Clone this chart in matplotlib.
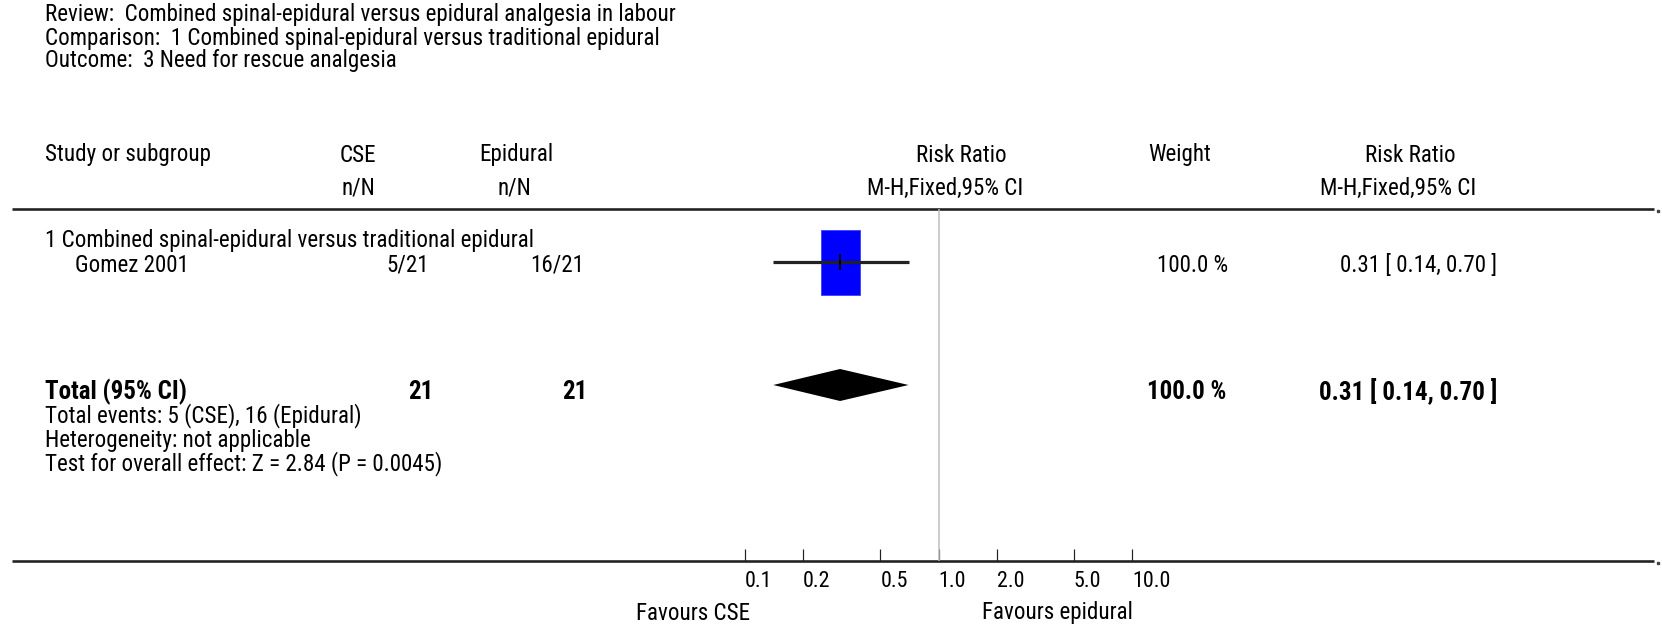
import matplotlib
matplotlib.use('Agg')
import matplotlib.pyplot as plt
from matplotlib import font_manager

# data
title_lines = ['Review:  Combined spinal-epidural versus epidural analgesia in labour',
               'Comparison:  1 Combined spinal-epidural versus traditional epidural',
               'Outcome:  3 Need for rescue analgesia']
subgroup = '1 Combined spinal-epidural versus traditional epidural'
studies = ['Gomez 2001']
cse_n = [5]
cse_N = [21]
epi_n = [16]
epi_N = [21]
rr = [0.31]
rr_lo = [0.14]
rr_hi = [0.70]
weight = [100.0]
total_rr = 0.31
total_lo = 0.14
total_hi = 0.70
total_weight = 100.0
z_value = 2.84
p_value = 0.0045
ticks = [0.1, 0.2, 0.5, 1.0, 2.0, 5.0, 10.0]
tick_labels = ['0.1', '0.2', '0.5', '1.0', '2.0', '5.0', '10.0']

# pick a narrow font if one is there
names = set(f.name for f in font_manager.fontManager.ttflist)
fam = 'DejaVu Sans'
for cand in ['Roboto Condensed', 'Liberation Sans Narrow', 'DejaVu Sans Condensed', 'Open Sans Condensed']:
    if cand in names:
        fam = cand
        break
plt.rcParams['font.family'] = [fam, 'DejaVu Sans']

W, H = 1662, 629
DPI = 100
def px(v):
    return v * 72.0 / DPI

fs = px(23)
fsb = px(25)

fig = plt.figure(figsize=(W / DPI, H / DPI), dpi=DPI)
ax = fig.add_axes([0, 0, 1, 1])
ax.set_xlim(0, W)
ax.set_ylim(H, 0)
ax.axis('off')

def t(x, y, s, ha='left', bold=False, size=None):
    ax.text(x, y, s, ha=ha, va='center', fontsize=size or (fsb if bold else fs),
            fontweight='bold' if bold else 'normal', color='black')

# header
for i, line in enumerate(title_lines):
    t(45, 15 + i * 23, line)

t(45, 155, 'Study or subgroup')
t(358, 155, 'CSE', ha='center')
t(358, 188, 'n/N', ha='center')
t(516, 155, 'Epidural', ha='center')
t(514, 188, 'n/N', ha='center')
t(961, 155, 'Risk Ratio', ha='center')
t(945, 188, 'M-H,Fixed,95% CI', ha='center')
t(1180, 155, 'Weight', ha='center')
t(1410, 155, 'Risk Ratio', ha='center')
t(1398, 188, 'M-H,Fixed,95% CI', ha='center')

# horizontal rules
for yl in [209, 561]:
    ax.plot([12, 1654], [yl, yl], color='#222222', lw=px(2.6), solid_capstyle='butt')
    ax.plot([1658], [yl + 2], marker='s', ms=px(2), color='#444444')

# rows
row_y = [265]
t(45, 240, subgroup)
for i, name in enumerate(studies):
    y = row_y[i]
    t(75, y, name)
    t(429, y, '%d/%d' % (cse_n[i], cse_N[i]), ha='right')
    t(584, y, '%d/%d' % (epi_n[i], epi_N[i]), ha='right')
    t(1228, y, '%.1f %%' % weight[i], ha='right')
    t(1497, y, '%.2f [ %.2f, %.2f ]' % (rr[i], rr_lo[i], rr_hi[i]), ha='right')

total_y = 392
t(45, total_y, 'Total (95% CI)', bold=True)
t(433, total_y, '%d' % sum(cse_N), ha='right', bold=True)
t(587, total_y, '%d' % sum(epi_N), ha='right', bold=True)
t(1226, total_y, '%.1f %%' % total_weight, ha='right', bold=True)
t(1497, total_y, '%.2f [ %.2f, %.2f ]' % (total_rr, total_lo, total_hi), ha='right', bold=True)
t(45, 416, 'Total events: %d (CSE), %d (Epidural)' % (sum(cse_n), sum(epi_n)))
t(45, 440, 'Heterogeneity: not applicable')
t(45, 464, 'Test for overall effect: Z = %.2f (P = %s)' % (z_value, p_value))

# forest panel, log scale
fx0, fx1, fy0, fy1 = 745, 1132, 209, 561
fa = fig.add_axes([fx0 / W, 1 - fy1 / H, (fx1 - fx0) / W, (fy1 - fy0) / H])
fa.set_xscale('log')
fa.set_xlim(0.1, 10)
fa.set_ylim(fy1, fy0)
fa.patch.set_alpha(0)
for s in fa.spines.values():
    s.set_visible(False)
fa.set_yticks([])
fa.minorticks_off()
fa.set_xticks(ticks)
fa.set_xticklabels(tick_labels)
for lab in fa.get_xticklabels():
    lab.set_ha('left')
fa.tick_params(axis='x', direction='in', length=px(12), width=px(1.2), color='#222222',
               labelsize=px(22), pad=px(10))
fa.axvline(1.0, color='#bdbdbd', lw=px(1.5))

box = [(-0.6, -1), (0.6, -1), (0.6, 1), (-0.6, 1), (-0.6, -1)]
for i in range(len(studies)):
    y = row_y[i] - 3
    fa.plot([rr[i]], [y], marker=box, ms=px(65), color='#0000ff', mec='#3030ff', mew=0.5, zorder=2)
    fa.plot([rr_lo[i], rr_hi[i]], [y, y], color='#222222', lw=px(3.2), solid_capstyle='butt', zorder=3)
    fa.plot([rr[i]], [y], marker='|', ms=px(16), mew=px(2), color='black', zorder=4)

dy = 16
fa.fill([total_lo, total_rr, total_hi, total_rr], [385, 385 - dy, 385, 385 + dy], color='black', lw=0)

ax.text(636, 613, 'Favours CSE', ha='left', va='center', fontsize=fs)
ax.text(982, 613, 'Favours epidural', ha='left', va='center', fontsize=fs)

fig.savefig('out.png', dpi=DPI)
